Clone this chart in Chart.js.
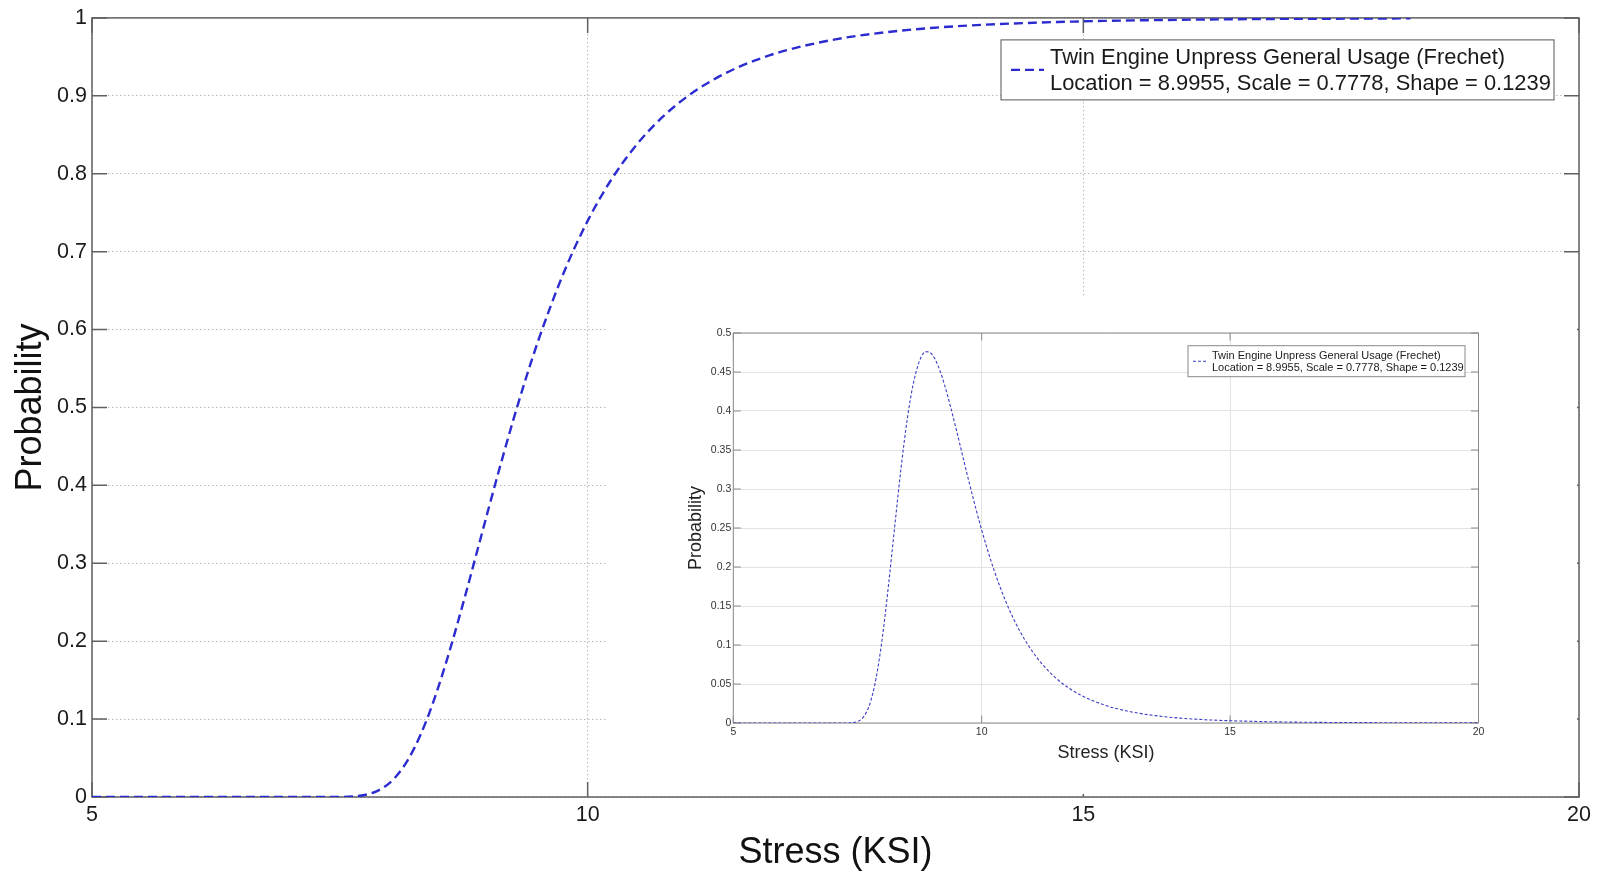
<!DOCTYPE html>
<html>
<head>
<meta charset="utf-8">
<title>Twin Engine Unpress General Usage (Frechet)</title>
<script src="https://cdn.jsdelivr.net/npm/chart.js@4.4.1/dist/chart.umd.min.js"></script>
<style>
    html, body { margin: 0; padding: 0; background: #fff; }
    #wrap { position: relative; width: 1602px; height: 875px; overflow: hidden; }
    #mainChart { position: absolute; left: 0; top: 0; }
    #insetChart { position: absolute; left: 607px; top: 297px; background: #fff; }
</style>
</head>
<body>
<div id="wrap">
    <canvas id="mainChart" width="1602" height="875"></canvas>
    <canvas id="insetChart" width="970" height="497"></canvas>
</div>
<script>
// Values
// Main chart: cumulative probability vs stress
const stressCdf = [5, 6, 7, 7.25, 7.5, 7.625, 7.75, 7.875, 8, 8.125, 8.25, 8.375, 8.5, 8.625, 8.75, 8.875,
    9, 9.125, 9.25, 9.375, 9.5, 9.75, 10, 10.25, 10.5, 10.75, 11, 11.25, 11.5, 11.75,
    12, 12.5, 13, 13.5, 14, 14.5, 15, 16, 17, 18, 18.3];
const cdfValues = [0, 0, 0, 0.000001, 0.000124, 0.000675, 0.00258, 0.00753, 0.0178, 0.0356, 0.0624, 0.0986, 0.1435, 0.1952, 0.2516, 0.3106,
    0.3700, 0.4282, 0.4840, 0.5365, 0.5852, 0.6703, 0.7395, 0.7947, 0.8382, 0.8722, 0.8987, 0.9194, 0.9356, 0.9483,
    0.9583, 0.9725, 0.9815, 0.9874, 0.9912, 0.9938, 0.9956, 0.9976, 0.9987, 0.9992, 0.9994];

// Inset: probability density vs stress
const stressPdf = [5, 6, 7, 7.25, 7.5, 7.625, 7.75, 7.875, 8, 8.125, 8.25, 8.375, 8.5, 8.625, 8.75, 8.875,
    9, 9.125, 9.25, 9.375, 9.5, 9.75, 10, 10.25, 10.5, 10.75, 11, 11.25, 11.5, 11.75,
    12, 12.5, 13, 13.5, 14, 14.5, 15, 16, 17, 18, 19, 20];
const pdfValues = [0, 0, 0, 0.00002, 0.0019, 0.0081, 0.0247, 0.0577, 0.1095, 0.1772, 0.2526, 0.3260, 0.3888, 0.4357, 0.4645, 0.4761,
    0.4727, 0.4575, 0.4340, 0.4050, 0.3732, 0.3078, 0.2474, 0.1957, 0.1535, 0.1199, 0.0936, 0.0731, 0.0572, 0.0450,
    0.0355, 0.0224, 0.0144, 0.0094, 0.0062, 0.0042, 0.0029, 0.0014, 0.0007, 0.0004, 0.0002, 0.0001];

// Axis ticks
const xTicks = [5, 10, 15, 20];
const yTicksMain = [0, 0.1, 0.2, 0.3, 0.4, 0.5, 0.6, 0.7, 0.8, 0.9, 1];
const yTicksInset = [0, 0.05, 0.1, 0.15, 0.2, 0.25, 0.3, 0.35, 0.4, 0.45, 0.5];

const legendLines = ['Twin Engine Unpress General Usage (Frechet)', 'Location = 8.9955, Scale = 0.7778, Shape = 0.1239'];

const FONT = '"Liberation Sans", Arial, Helvetica, sans-serif';
Chart.defaults.font.family = FONT;

function toPoints(xs, ys) {
    return xs.map((x, i) => ({ x: x, y: ys[i] }));
}

function fmt(v) {
    return String(Math.round(v * 100) / 100);
}

// Box around the axes with MATLAB style inward ticks
const axesFrame = {
    id: 'axesFrame',
    beforeDatasetsDraw(chart, args, o) {
        const { ctx, chartArea: a, scales: { x, y } } = chart;
        ctx.save();
        ctx.setLineDash([]);
        ctx.strokeStyle = o.color;
        ctx.lineWidth = o.width;
        ctx.beginPath();
        x.ticks.forEach(t => {
            const px = x.getPixelForValue(t.value);
            ctx.moveTo(px, a.bottom); ctx.lineTo(px, a.bottom - o.tick);
            ctx.moveTo(px, a.top); ctx.lineTo(px, a.top + o.tick);
        });
        y.ticks.forEach(t => {
            const py = y.getPixelForValue(t.value);
            ctx.moveTo(a.left, py); ctx.lineTo(a.left + o.tick, py);
            ctx.moveTo(a.right, py); ctx.lineTo(a.right - o.tick, py);
        });
        ctx.stroke();
        ctx.strokeRect(a.left, a.top, a.right - a.left, a.bottom - a.top);
        ctx.restore();
    }
};

// Two-line legend in a framed box
const boxLegend = {
    id: 'boxLegend',
    afterDraw(chart, args, o) {
        const { ctx, chartArea: a } = chart;
        const left = a.right - o.right - o.width;
        const top = a.top + o.top;
        const ds = chart.data.datasets[0];
        ctx.save();
        ctx.fillStyle = '#fff';
        ctx.fillRect(left, top, o.width, o.height);
        ctx.strokeStyle = o.borderColor;
        ctx.lineWidth = 1;
        ctx.strokeRect(left, top, o.width, o.height);

        ctx.strokeStyle = ds.borderColor;
        ctx.lineWidth = ds.borderWidth;
        ctx.setLineDash(ds.borderDash);
        ctx.beginPath();
        ctx.moveTo(left + o.sample[0], top + o.sampleY);
        ctx.lineTo(left + o.sample[1], top + o.sampleY);
        ctx.stroke();
        ctx.setLineDash([]);

        ctx.fillStyle = '#1a1a1a';
        ctx.font = o.fontSize + 'px ' + FONT;
        ctx.textBaseline = 'middle';
        ctx.textAlign = 'left';
        legendLines.forEach((s, i) => ctx.fillText(s, left + o.textX, top + o.lineY[i]));
        ctx.restore();
    }
};

// Main chart
new Chart(document.getElementById('mainChart'), {
    type: 'line',
    data: {
        datasets: [{
            label: legendLines[0],
            data: toPoints(stressCdf, cdfValues),
            borderColor: '#2b2bcf',
            borderWidth: 2.4,
            borderDash: [9, 5],
            pointRadius: 0,
            fill: false,
            cubicInterpolationMode: 'monotone'
        }]
    },
    options: {
        responsive: false,
        animation: false,
        devicePixelRatio: 1,
        events: [],
        layout: { padding: { left: 0, top: 17, right: 23, bottom: 0 } },
        scales: {
            x: {
                type: 'linear', min: 5, max: 20,
                afterBuildTicks: s => { s.ticks = xTicks.map(v => ({ value: v })); },
                afterFit: s => { s.height = 78; },
                ticks: { color: '#1a1a1a', font: { size: 21.5 }, padding: 5, maxRotation: 0, callback: fmt },
                grid: { color: '#b8b8b8', lineWidth: 1, drawTicks: false },
                border: { display: false, dash: [1.5, 2.5] },
                title: { display: true, text: 'Stress (KSI)', color: '#111', font: { size: 36 }, padding: { top: 0, bottom: 0 } }
            },
            y: {
                type: 'linear', min: 0, max: 1,
                afterBuildTicks: s => { s.ticks = yTicksMain.map(v => ({ value: v })); },
                afterFit: s => { s.width = 92; },
                ticks: { color: '#1a1a1a', font: { size: 21.5 }, padding: 5, callback: fmt },
                grid: { color: '#b8b8b8', lineWidth: 1, drawTicks: false },
                border: { display: false, dash: [1.5, 2.5] },
                title: { display: true, text: 'Probability', color: '#111', font: { size: 36 }, padding: { top: 9, bottom: 0 } }
            }
        },
        plugins: {
            legend: { display: false },
            tooltip: { enabled: false },
            axesFrame: { color: '#606060', width: 1.5, tick: 15 },
            boxLegend: {
                right: 25, top: 22, width: 553, height: 60, borderColor: '#555',
                sample: [10, 43], sampleY: 30, textX: 49, lineY: [18, 44], fontSize: 21.9
            }
        }
    },
    plugins: [axesFrame, boxLegend]
});

// Inset chart
new Chart(document.getElementById('insetChart'), {
    type: 'line',
    data: {
        datasets: [{
            label: legendLines[0],
            data: toPoints(stressPdf, pdfValues),
            borderColor: '#3c3cc4',
            borderWidth: 1.1,
            borderDash: [3, 2],
            pointRadius: 0,
            fill: false,
            cubicInterpolationMode: 'monotone'
        }]
    },
    options: {
        responsive: false,
        animation: false,
        devicePixelRatio: 1,
        events: [],
        layout: { padding: { left: 0, top: 36, right: 98.5, bottom: 0 } },
        scales: {
            x: {
                type: 'linear', min: 5, max: 20,
                afterBuildTicks: s => { s.ticks = xTicks.map(v => ({ value: v })); },
                afterFit: s => { s.height = 71; },
                ticks: { color: '#333', font: { size: 10.5 }, padding: 3, maxRotation: 0, callback: fmt },
                grid: { color: '#e3e3e3', lineWidth: 1, drawTicks: false },
                border: { display: false },
                title: { display: true, text: 'Stress (KSI)', color: '#222', font: { size: 18 }, padding: { top: 0, bottom: 30 } }
            },
            y: {
                type: 'linear', min: 0, max: 0.5,
                afterBuildTicks: s => { s.ticks = yTicksInset.map(v => ({ value: v })); },
                afterFit: s => { s.width = 126.3; },
                ticks: { color: '#333', font: { size: 10.5 }, padding: 2, callback: fmt },
                grid: { color: '#e3e3e3', lineWidth: 1, drawTicks: false },
                border: { display: false },
                title: { display: true, text: 'Probability', color: '#222', font: { size: 18 }, padding: { top: 78, bottom: 0 } }
            }
        },
        plugins: {
            legend: { display: false },
            tooltip: { enabled: false },
            axesFrame: { color: '#8a8a8a', width: 1, tick: 7.5 },
            boxLegend: {
                right: 13.5, top: 12.7, width: 277, height: 31, borderColor: '#888',
                sample: [5, 20], sampleY: 15.5, textX: 24, lineY: [10, 22.5], fontSize: 11
            }
        }
    },
    plugins: [axesFrame, boxLegend]
});
</script>
</body>
</html>
